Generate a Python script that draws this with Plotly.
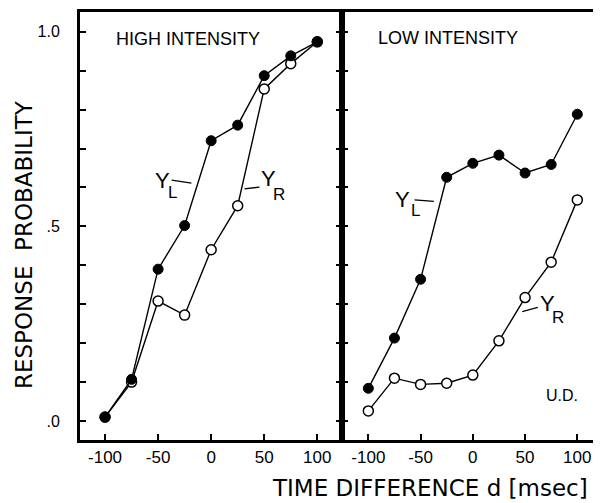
import plotly.graph_objects as go

# ---- data ----
d_values = [-100, -75, -50, -25, 0, 25, 50, 75, 100]

high_YL = [0.01, 0.107, 0.39, 0.502, 0.72, 0.76, 0.887, 0.938, 0.974]
high_YR = [0.01, 0.100, 0.308, 0.272, 0.44, 0.553, 0.853, 0.918, 0.974]

low_YL = [0.084, 0.213, 0.364, 0.626, 0.662, 0.683, 0.637, 0.659, 0.788]
low_YR = [0.026, 0.110, 0.094, 0.097, 0.118, 0.206, 0.317, 0.408, 0.568]

x_tickvals = [-100, -50, 0, 50, 100]
x_ticktext = ["-100", "-50", "0", "50", "100"]
y_tickvals = [0.0, 0.1, 0.2, 0.3, 0.4, 0.5, 0.6, 0.7, 0.8, 0.9, 1.0]
y_ticktext = [".0", "", "", "", "", ".5", "", "", "", "", "1.0"]

# page body has an 8px margin; the figure is sized to fill the rest
OFF = 8
W, H = 601 - OFF, 503 - OFF
TXT = "Liberation Sans, Arial, sans-serif"
TITLE_FONT = "DejaVu Sans, sans-serif"

def px(x):
    return (x - OFF) / W

def py(y):
    return (H - (y - OFF)) / H

fig = go.Figure()

def add_panel(xa, ya, yl, yr):
    fig.add_trace(go.Scatter(
        x=d_values, y=yr, xaxis=xa, yaxis=ya, mode="lines+markers",
        line=dict(color="black", width=1.4),
        marker=dict(symbol="circle", size=10, color="white",
                    line=dict(color="black", width=1.5)),
        showlegend=False, hoverinfo="skip"))
    fig.add_trace(go.Scatter(
        x=d_values, y=yl, xaxis=xa, yaxis=ya, mode="lines+markers",
        line=dict(color="black", width=1.4),
        marker=dict(symbol="circle", size=10, color="black",
                    line=dict(color="black", width=1)),
        showlegend=False, hoverinfo="skip"))

add_panel("x", "y", high_YL, high_YR)
add_panel("x2", "y2", low_YL, low_YR)

ydom = [py(439.5), py(11.5)]
yrange = [-0.0475, 1.0519]

xcommon = dict(tickvals=x_tickvals, ticktext=x_ticktext, ticks="inside",
               ticklen=6, tickwidth=1.5, tickcolor="black",
               showline=True, linecolor="black", linewidth=2.5, mirror=True,
               showgrid=False, zeroline=False,
               tickfont=dict(family=TXT, size=17, color="black"))

fig.update_layout(
    width=W, height=H,
    margin=dict(l=0, r=0, t=0, b=0),
    paper_bgcolor="white", plot_bgcolor="white",
    xaxis=dict(domain=[px(80), px(342)], range=[-123.6, 123.3],
               anchor="y", **xcommon),
    xaxis2=dict(domain=[px(342), px(598)], range=[-125.2, 119.8],
                anchor="y2", **xcommon),
    yaxis=dict(domain=ydom, range=yrange, anchor="x",
               tickvals=y_tickvals, ticktext=y_ticktext,
               ticks="inside", ticklen=6, tickwidth=1.5, tickcolor="black",
               showline=True, linecolor="black", linewidth=3,
               mirror="allticks", showgrid=False, zeroline=False,
               ticklabelstandoff=14,
               tickfont=dict(family=TXT, size=16, color="black")),
    yaxis2=dict(domain=ydom, range=yrange, anchor="x2",
                tickvals=y_tickvals, ticktext=[""] * len(y_tickvals),
                ticks="inside", ticklen=6, tickwidth=1.5, tickcolor="black",
                showline=True, linecolor="black", linewidth=2.5,
                mirror=True, showgrid=False, zeroline=False),
)

ann = []
def txt(text, x, y, xref, yref, size, xanchor="center", family=TXT, angle=0):
    ann.append(dict(text=text, x=x, y=y, xref=xref, yref=yref,
                    showarrow=False, xanchor=xanchor, yanchor="middle",
                    textangle=angle, borderpad=0,
                    font=dict(family=family, size=size, color="black")))

# panel titles
txt("HIGH INTENSITY", -91, 0.981, "x", "y", 18, xanchor="left")
txt("LOW INTENSITY", -92, 0.984, "x2", "y2", 18, xanchor="left")
txt("U.D.", 85.0, 0.066, "x2", "y2", 16)

# curve labels, left panel
txt("Y", -45.8, 0.619, "x", "y", 22)
txt("L", -36.5, 0.586, "x", "y", 17)
txt("Y", 53.6, 0.623, "x", "y", 22)
txt("R", 63.5, 0.581, "x", "y", 17)
# curve labels, right panel
txt("Y", -67.0, 0.568, "x2", "y2", 22)
txt("L", -55.0, 0.540, "x2", "y2", 17)
txt("Y", 71.0, 0.302, "x2", "y2", 22)
txt("R", 81.5, 0.266, "x2", "y2", 17)

# axis titles
txt("RESPONSE  PROBABILITY", px(24), py(245), "paper", "paper", 23,
    family=TITLE_FONT, angle=-90)
txt("TIME DIFFERENCE d [msec]", px(430), py(488), "paper", "paper", 23,
    family=TITLE_FONT)

fig.update_layout(annotations=ann)

# leader lines
leaders = [
    ("x", "y", -37.3, 0.619, -18.6, 0.611),
    ("x", "y", 31.4, 0.596, 45.6, 0.601),
    ("x2", "y2", -55.8, 0.568, -37.3, 0.564),
    ("x2", "y2", 47.3, 0.281, 62.2, 0.292),
]
shapes = []
for xr, yr_, x0, y0, x1, y1 in leaders:
    shapes.append(dict(type="line", xref=xr, yref=yr_, x0=x0, y0=y0,
                       x1=x1, y1=y1, line=dict(color="black", width=1.3)))
fig.update_layout(shapes=shapes)

fig.write_html("out.html")
